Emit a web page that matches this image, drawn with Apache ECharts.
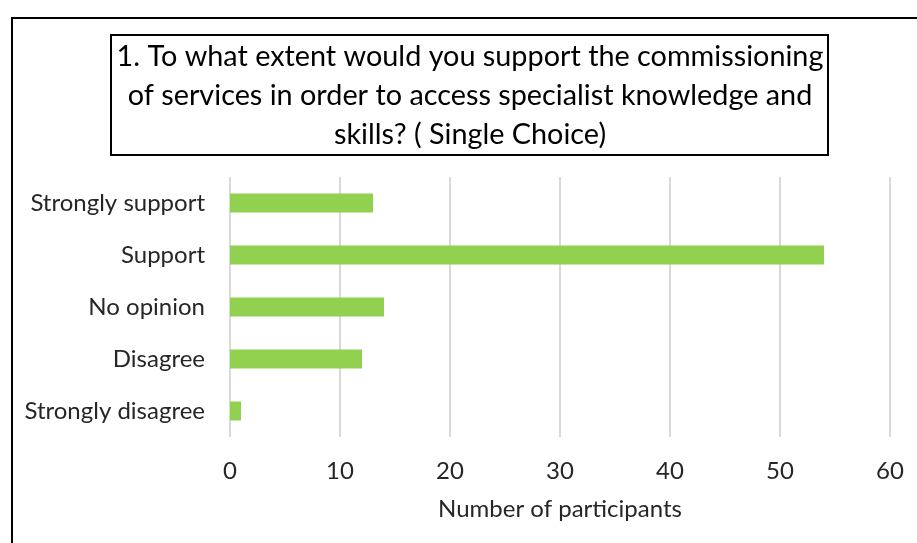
<!DOCTYPE html>
<html>
<head>
<meta charset="utf-8">
<script src="https://cdn.jsdelivr.net/npm/echarts@6/dist/echarts.min.js"></script>
<style>
  html, body { margin: 0; padding: 0; background: #fff; }
  #chart { width: 917px; height: 543px; }
</style>
</head>
<body>
<div id="chart"></div>
<script>
// Survey responses, top to bottom
const categories = ['Strongly support', 'Support', 'No opinion', 'Disagree', 'Strongly disagree'];
const participants = [13, 54, 14, 12, 1];
const titleLines = [
  '1. To what extent would you support the commissioning',
  'of services in order to access specialist knowledge and',
  'skills? ( Single Choice)'
];
const axisTitle = 'Number of participants';

const FONT = 'Lato, "Open Sans", sans-serif';
const TEXT = '#262626';

const chart = echarts.init(document.getElementById('chart'));
chart.setOption({
  backgroundColor: '#fff',
  animation: false,
  graphic: [
    {
      type: 'rect',
      shape: { x: 12, y: 18, width: 1000, height: 600 },
      style: { fill: 'none', stroke: '#000', lineWidth: 2 },
      silent: true
    },
    {
      type: 'rect',
      shape: { x: 111, y: 35, width: 717, height: 120 },
      style: { fill: '#fff', stroke: '#000', lineWidth: 2 },
      silent: true
    },
    {
      type: 'text',
      x: 470,
      y: 96,
      style: {
        text: titleLines.join('\n'),
        font: '28.8px ' + FONT,
        fill: '#000',
        align: 'center',
        verticalAlign: 'middle',
        lineHeight: 39
      },
      silent: true
    }
  ],
  grid: { left: 230, right: 27, top: 177, bottom: 106, containLabel: false },
  xAxis: {
    type: 'value',
    min: 0,
    max: 60,
    interval: 10,
    axisLine: { show: false },
    axisTick: { show: false },
    splitLine: { show: true, lineStyle: { color: '#d9d9d9', width: 2 } },
    axisLabel: { color: TEXT, fontFamily: FONT, fontSize: 24, margin: 22 },
    name: axisTitle,
    nameLocation: 'middle',
    nameGap: 60,
    nameTextStyle: { color: TEXT, fontFamily: FONT, fontSize: 24 }
  },
  yAxis: {
    type: 'category',
    data: categories,
    inverse: true,
    axisLine: { show: false },
    axisTick: { show: false },
    splitLine: { show: false },
    axisLabel: { color: TEXT, fontFamily: FONT, fontSize: 24, margin: 25 }
  },
  series: [{
    type: 'bar',
    data: participants,
    barWidth: 19,
    itemStyle: { color: '#92d050' },
    silent: true
  }]
});
</script>
</body>
</html>
